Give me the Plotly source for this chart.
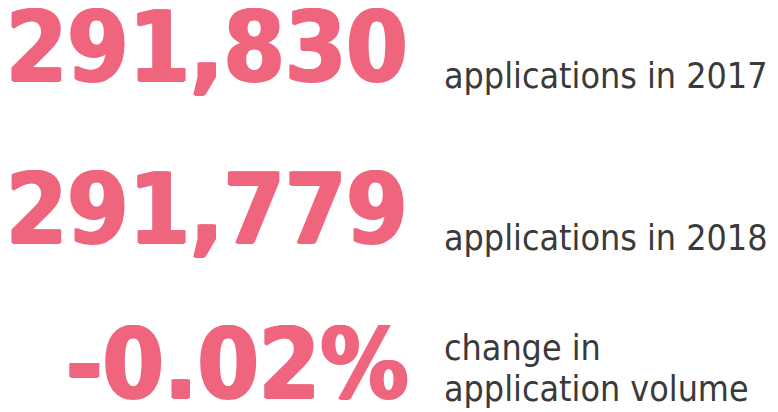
import plotly.graph_objects as go

# headline figures and their captions
values = ["291,830", "291,779", "-0.02%"]
captions = [["applications in 2017"], ["applications in 2018"], ["change in", "application volume"]]

# vertical centre of each row (pixels from top) and caption line centres
row_px = [39, 201, 356]
caption_px = [[67], [229], [339, 380]]

W, H = 778, 412
PINK = "#F0657E"
GREY = "#3a3a3a"
FONT = "DejaVu Sans Condensed"
heavy = "1.5px 0 0 %s, -1.5px 0 0 %s, 0 1px 0 %s" % (PINK, PINK, PINK)

fig = go.Figure()

for v, lines, ry, cys in zip(values, captions, row_px, caption_px):
    fig.add_annotation(
        x=402 / W, y=1 - ry / H, xref="paper", yref="paper",
        xanchor="right", yanchor="middle", showarrow=False,
        text=v, align="right",
        font=dict(family=FONT, size=98, color=PINK, weight="bold", shadow=heavy))
    for line, cy in zip(lines, cys):
        fig.add_annotation(
            x=434 / W, y=1 - cy / H, xref="paper", yref="paper",
            xanchor="left", yanchor="middle", showarrow=False,
            text=line, align="left",
            font=dict(family=FONT, size=35.5, color=GREY))

fig.update_xaxes(visible=False, range=[0, 1])
fig.update_yaxes(visible=False, range=[0, 1])
fig.update_layout(
    width=W, height=H,
    margin=dict(l=0, r=0, t=0, b=0),
    paper_bgcolor="white", plot_bgcolor="white",
    showlegend=False)

fig.write_html("out.html")
